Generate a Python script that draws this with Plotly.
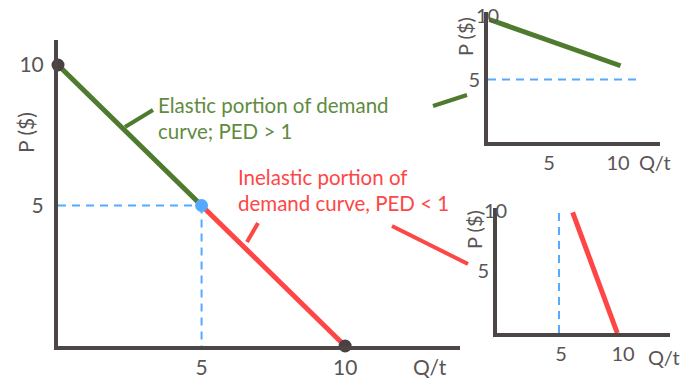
import plotly.graph_objects as go

W, H = 689, 382

# Demand curve data (price P in $, quantity Q per period)
elastic_q = [0, 5]
elastic_p = [10, 5]
inelastic_q = [5, 10]
inelastic_p = [5, 0]
end_q = [0, 10]
end_p = [10, 0]
mid_q = [5]
mid_p = [5]

# Close-up panels
zoom_elastic_q = [0.1, 9.6]
zoom_elastic_p = [9.8, 6.1]
zoom_inelastic_q = [6.1, 9.7]
zoom_inelastic_p = [9.8, 0]
ref_price = 5
ref_qty = 5

tick_vals = [5, 10]
tick_text = ["5", "10"]

AXIS = "#4d4646"
TICK = "#5a5555"
GREEN = "#4f7b2f"
GREEN_TXT = "#5f8c40"
RED = "#ff4646"
BLUE = "#55aaff"
FONT = "Lato"


def px(x):
    return x / W


def py(y):
    return 1 - y / H


fig = go.Figure()

# ---- main chart ----
fig.add_trace(go.Scatter(x=[0, mid_q[0]], y=[mid_p[0], mid_p[0]], mode="lines",
                         line=dict(color=BLUE, width=2, dash="8px,6px"),
                         xaxis="x", yaxis="y", cliponaxis=False))
fig.add_trace(go.Scatter(x=[mid_q[0], mid_q[0]], y=[mid_p[0], 0], mode="lines",
                         line=dict(color=BLUE, width=2, dash="8px,6px"),
                         xaxis="x", yaxis="y", cliponaxis=False))
fig.add_trace(go.Scatter(x=elastic_q, y=elastic_p, mode="lines",
                         line=dict(color=GREEN, width=5),
                         xaxis="x", yaxis="y", cliponaxis=False))
fig.add_trace(go.Scatter(x=inelastic_q, y=inelastic_p, mode="lines",
                         line=dict(color=RED, width=5),
                         xaxis="x", yaxis="y", cliponaxis=False))
fig.add_trace(go.Scatter(x=end_q, y=end_p, mode="markers",
                         marker=dict(color="#4a4242", size=13),
                         xaxis="x", yaxis="y", cliponaxis=False))
fig.add_trace(go.Scatter(x=mid_q, y=mid_p, mode="markers",
                         marker=dict(color=BLUE, size=13),
                         xaxis="x", yaxis="y", cliponaxis=False))

# ---- elastic close-up ----
fig.add_trace(go.Scatter(x=[0, 10.8], y=[ref_price, ref_price], mode="lines",
                         line=dict(color=BLUE, width=2, dash="8px,6px"),
                         xaxis="x2", yaxis="y2", cliponaxis=False))
fig.add_trace(go.Scatter(x=zoom_elastic_q, y=zoom_elastic_p, mode="lines",
                         line=dict(color=GREEN, width=5),
                         xaxis="x2", yaxis="y2", cliponaxis=False))

# ---- inelastic close-up ----
fig.add_trace(go.Scatter(x=[ref_qty, ref_qty], y=[0, 10.1], mode="lines",
                         line=dict(color=BLUE, width=2, dash="8px,6px"),
                         xaxis="x3", yaxis="y3", cliponaxis=False))
fig.add_trace(go.Scatter(x=zoom_inelastic_q, y=zoom_inelastic_p, mode="lines",
                         line=dict(color=RED, width=5),
                         xaxis="x3", yaxis="y3", cliponaxis=False))

common = dict(showgrid=False, zeroline=False, showline=True, linecolor=AXIS,
              linewidth=4, ticks="", fixedrange=True)
main_font = dict(family=FONT, size=21, color=TICK)
small_font = dict(family=FONT, size=20, color=TICK)

layout = dict(
    width=W, height=H,
    margin=dict(l=0, r=0, t=0, b=0),
    paper_bgcolor="white", plot_bgcolor="rgba(0,0,0,0)",
    showlegend=False,
    font=dict(family=FONT, color=TICK),
    xaxis=dict(domain=[px(58), px(460)], range=[0, 14.0], anchor="y",
               tickvals=tick_vals, ticktext=tick_text, tickfont=main_font, **common),
    yaxis=dict(domain=[py(346), py(40)], range=[0, 10.89], anchor="x",
               tickvals=tick_vals, ticktext=tick_text, tickfont=main_font,
               ticklabelstandoff=6, **common),
    xaxis2=dict(domain=[px(488), px(660)], range=[0, 12.46], anchor="y2",
                tickvals=tick_vals, ticktext=tick_text, ticklabelshift=-8,
                tickfont=small_font, **common),
    yaxis2=dict(domain=[py(142), py(12)], range=[0, 10.4], anchor="x2",
                tickvals=[5], ticktext=["5"], tickfont=small_font, **common),
    xaxis3=dict(domain=[px(497), px(670)], range=[0, 13.95], anchor="y3",
                tickvals=tick_vals, ticktext=tick_text, ticklabelshift=2,
                tickfont=small_font, **common),
    yaxis3=dict(domain=[py(333), py(208)], range=[0, 10.16], anchor="x3",
                tickvals=[5], ticktext=["5"], tickfont=small_font, **common),
)
fig.update_layout(**layout)

ann = []


def label(x, y, text, size=21, color=TICK, angle=0, xanchor="center"):
    ann.append(dict(x=px(x), y=py(y), xref="paper", yref="paper", text=text,
                    showarrow=False, textangle=angle, xanchor=xanchor, yanchor="middle",
                    align="left", font=dict(family=FONT, size=size, color=color)))


# axis titles and corner tick labels
label(25, 133, "P ($)", angle=-90)
label(430, 366, "Q/t")
label(465, 36, "P ($)", size=20, angle=-90)
label(487, 15, "10", size=20)
label(655, 162, "Q/t", size=20)
label(474, 230, "P ($)", size=20, angle=-90)
label(495, 210, "10", size=20)
label(664, 357, "Q/t", size=20)

# curve descriptions
label(156, 105, "Elastic portion of demand", size=20.5, color=GREEN_TXT, xanchor="left")
label(156, 131, "curve; PED > 1", size=20.5, color=GREEN_TXT, xanchor="left")
label(236, 177, "Inelastic portion of", size=20.5, color=RED, xanchor="left")
label(236, 203, "demand curve, PED < 1", size=20.5, color=RED, xanchor="left")
fig.update_layout(annotations=ann)

# leader and connector strokes
shapes = []


def stroke(x0, y0, x1, y1, color):
    shapes.append(dict(type="line", xref="paper", yref="paper",
                       x0=px(x0), y0=py(y0), x1=px(x1), y1=py(y1),
                       line=dict(color=color, width=4)))


stroke(125, 127, 153, 110, GREEN)
stroke(247, 242, 258, 223, RED)
stroke(433, 106, 467, 95, GREEN)
stroke(392, 226, 468, 264, RED)
fig.update_layout(shapes=shapes)

fig.write_html("out.html")
